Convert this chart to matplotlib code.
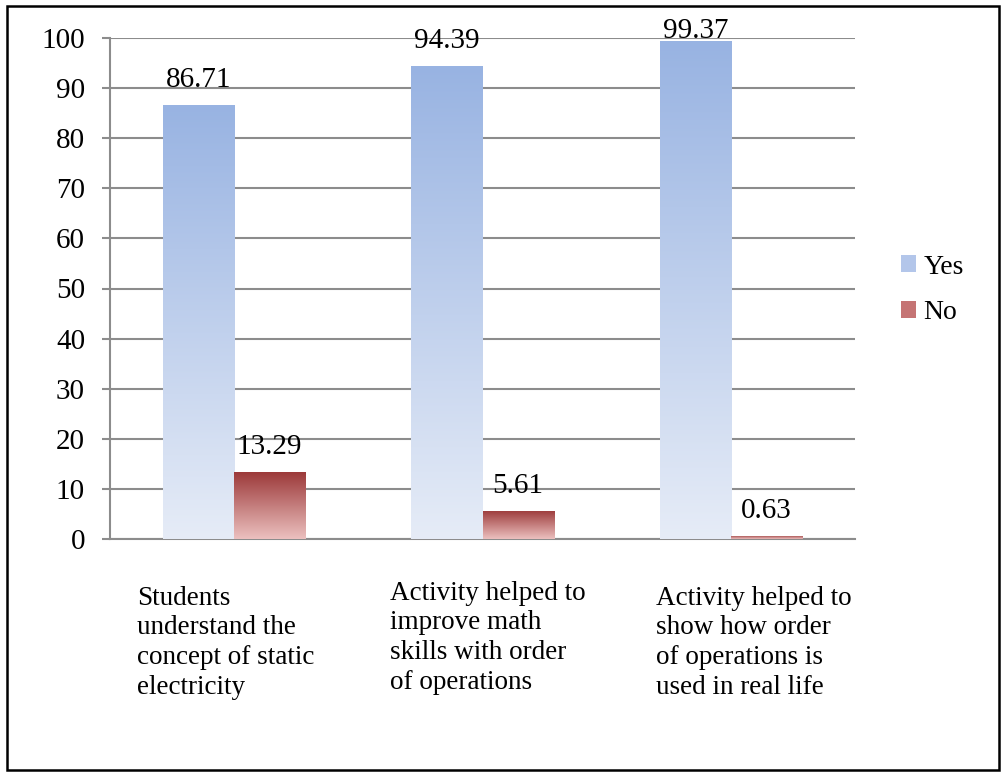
import numpy as np
import matplotlib
matplotlib.use("Agg")
import matplotlib.pyplot as plt
from matplotlib.patches import Patch, Rectangle
from matplotlib.colors import LinearSegmentedColormap
import matplotlib.transforms as mtransforms

categories = [
    "Students\nunderstand the\nconcept of static\nelectricity",
    "Activity helped to\nimprove math\nskills with order\nof operations",
    "Activity helped to\nshow how order\nof operations is\nused in real life",
]
yes_values = [86.71, 94.39, 99.37]
no_values = [13.29, 5.61, 0.63]
series_names = ["Yes", "No"]
yticks = [0, 10, 20, 30, 40, 50, 60, 70, 80, 90, 100]

# layout / style
label_dx = [-0.391, -0.372, -0.301]
label_dy = [-0.093, -0.083, -0.093]
yes_top, yes_bot = "#98b3e2", "#e6ecf7"
no_top, no_bot = "#9c3a3a", "#ecc0bf"

plt.rcParams['font.family'] = ['Liberation Serif', 'DejaVu Serif']

fig = plt.figure(figsize=(10.05, 7.72), dpi=100)
ax = fig.add_axes([110/1005, 1-539/772, (855-110)/1005, (539-38)/772])

x = np.arange(len(categories))
w = 0.286
ymax = 100

def grad_bars(xpos, vals, top, bot):
    bars = ax.bar(xpos, vals, w, facecolor='none', edgecolor='none', zorder=3)
    cmap = LinearSegmentedColormap.from_list("g", [bot, top])
    grad = np.linspace(0, 1, 256).reshape(-1, 1)
    for b in bars:
        x0, y0 = b.get_x(), b.get_y()
        bw, bh = b.get_width(), b.get_height()
        im = ax.imshow(grad, cmap=cmap, origin='lower', aspect='auto',
                       extent=[x0, x0 + bw, y0, y0 + bh], zorder=3,
                       interpolation='bicubic')
        im.set_clip_path(b)
    return bars

yb = grad_bars(x - w/2, yes_values, yes_top, yes_bot)
nb = grad_bars(x + w/2, no_values, no_top, no_bot)

# labels: baseline ~18px above bar top, kept inside the plot top
off_px = 18
off_data = off_px / (501 / ymax)
for bars, vals in ((yb, yes_values), (nb, no_values)):
    for b, v in zip(bars, vals):
        anchor = min(v, ymax - off_data)
        ax.annotate(f"{v:.2f}", (b.get_x() + b.get_width()/2, anchor),
                    xytext=(0, off_px * 0.72), textcoords='offset points',
                    ha='center', va='baseline', fontsize=21, color='black', zorder=5)

ax.set_xlim(-0.5, len(categories) - 0.5)
ax.set_ylim(0, ymax)
ax.set_yticks(yticks)
ax.set_yticklabels([str(t) for t in yticks], fontsize=21)
ax.set_xticks([])
ax.yaxis.grid(True, color='#8c8c8c', linewidth=1.5, zorder=0)
ax.set_axisbelow(True)
for s in ['top', 'right']:
    ax.spines[s].set_visible(False)
ax.spines['left'].set_color('#8c8c8c')
ax.spines['left'].set_linewidth(1.5)
ax.spines['bottom'].set_color('#8c8c8c')
ax.spines['bottom'].set_linewidth(1.5)
ax.tick_params(axis='y', length=6, width=1.5, color='#8c8c8c', pad=12)

trans = mtransforms.blended_transform_factory(ax.transData, ax.transAxes)
for i, lab in enumerate(categories):
    ax.text(i + label_dx[i], label_dy[i], lab, transform=trans, ha='left', va='top',
            fontsize=19.5, linespacing=1.25, color='black')

handles = [Patch(facecolor="#b3c6ea", edgecolor='none'),
           Patch(facecolor="#c57474", edgecolor='none')]
fig.legend(handles, series_names, loc='center left', bbox_to_anchor=(876/1005, 1-290/772),
           frameon=False, fontsize=20, handlelength=0.55, handleheight=0.55,
           handletextpad=0.25, labelspacing=0.75)

fig.patches.append(Rectangle((7/1005, 2/772), 992/1005, 764/772, transform=fig.transFigure,
                             fill=False, edgecolor='black', linewidth=1.8))

fig.savefig("out.png", dpi=100)
